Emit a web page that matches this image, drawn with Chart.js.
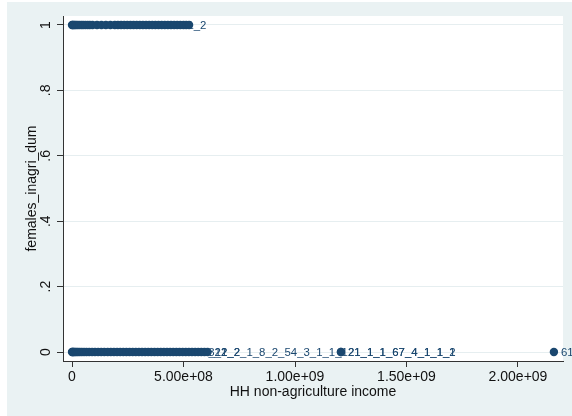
<!DOCTYPE html>
<html>
<head>
<meta charset="utf-8">
<script src="https://cdn.jsdelivr.net/npm/chart.js@4/dist/chart.umd.min.js"></script>
<style>
  html, body { margin: 0; padding: 0; background: #ffffff; }
  canvas { display: block; }
</style>
</head>
<body>
<canvas id="chart" width="572" height="416"></canvas>
<script>
// Households with females working in agriculture (females_inagri_dum = 1)
const incomeInAgri = [
  0, 3e6, 7e6, 1.2e7, 1.8e7, 2.5e7, 3.3e7, 4.2e7, 5.0e7, 6.0e7,
  7.0e7, 8.0e7, 9.2e7, 1.12e8, 1.32e8, 1.52e8, 1.72e8, 1.92e8, 2.06e8, 2.2e8,
  2.34e8, 2.48e8, 2.62e8, 2.76e8, 2.9e8, 3.04e8, 3.18e8, 3.32e8, 3.46e8, 3.6e8,
  3.74e8, 3.88e8, 4.02e8, 4.16e8, 4.3e8, 4.44e8, 4.58e8, 4.72e8, 4.86e8, 5.0e8,
  5.12e8, 5.25e8
];
// Household id marker labels ("" = no id recorded)
const idsInAgri = [
  "", "", "", "", "", "", "", "", "", "",
  "", "", "", "", "", "", "", "", "", "",
  "", "", "", "", "", "", "", "", "", "",
  "", "", "", "", "", "", "", "", "1_2", "",
  "", ""
];

// Households without females in agriculture (females_inagri_dum = 0)
const incomeNotAgri = [
  0, 2e6, 5e6, 9e6, 1.4e7, 2.0e7, 2.7e7, 3.5e7, 4.4e7, 5.4e7,
  6.5e7, 7.7e7, 9.0e7, 1.03e8, 1.17e8, 1.31e8, 1.45e8, 1.6e8, 1.74e8, 1.88e8,
  2.02e8, 2.16e8, 2.3e8, 2.44e8, 2.58e8, 2.72e8, 2.86e8, 3.0e8, 3.14e8, 3.28e8,
  3.42e8, 3.56e8, 3.7e8, 3.84e8, 3.98e8, 4.12e8, 4.26e8, 4.4e8, 4.54e8, 4.68e8,
  4.82e8, 4.96e8, 5.1e8, 5.24e8, 5.38e8, 5.52e8, 5.66e8, 5.8e8, 5.94e8, 6.08e8,
  1.206e9, 1.206e9, 2.161e9
];
const idsNotAgri = [
  "", "", "", "", "", "", "", "", "", "",
  "", "", "", "", "", "", "", "", "", "",
  "", "", "", "", "", "", "", "", "", "",
  "", "", "", "", "", "", "", "", "", "",
  "", "", "", "", "", "2_12_2_1_8_2_54_3_1_1_1", "", "3_1_2", "", "22",
  "21_1_1_67_4_1_1_2", "21_1_1_67_4_1_1_1", "61_1_2_3_1_1_1_1"
];

const xTickValues = [0, 5e8, 1e9, 1.5e9, 2e9];
const xTickLabels = ["0", "5.00e+08", "1.00e+09", "1.50e+09", "2.00e+09"];
const yTickValues = [0, 0.2, 0.4, 0.6, 0.8, 1];
const yTickLabels = ["0", ".2", ".4", ".6", ".8", "1"];
const xTitle = "HH non-agriculture income";
const yTitle = "females_inagri_dum";

const NAVY = "#1a476f";
const FRAME = "#eaf2f3";
const FONT = "'Liberation Sans', Arial, Helvetica, sans-serif";

const toPoints = (xs, ys, ids) => xs.map((x, i) => ({ x: x, y: ys, id: ids[i] }));

// Page frame, plot region and axis texts
const framePlugin = {
  id: "frame",
  beforeDraw(chart) {
    const { ctx, chartArea: a } = chart;
    ctx.save();
    ctx.fillStyle = "#ffffff";
    ctx.fillRect(0, 0, chart.width, chart.height);
    ctx.fillStyle = FRAME;
    ctx.fillRect(7, 2, chart.width - 7, chart.height - 2);
    ctx.fillStyle = "#ffffff";
    ctx.fillRect(a.left, a.top, a.right - a.left, a.bottom - a.top);
    ctx.restore();
  },
  afterDraw(chart) {
    const { ctx, chartArea: a } = chart;
    const xs = chart.scales.x, ys = chart.scales.y;
    ctx.save();
    ctx.fillStyle = "#111111";
    ctx.font = "14px " + FONT;
    ctx.textBaseline = "alphabetic";
    ctx.textAlign = "center";
    xTickValues.forEach((v, i) => {
      ctx.fillText(xTickLabels[i], xs.getPixelForValue(v), 381);
    });
    ctx.fillText(xTitle, (a.left + a.right) / 2, 396);
    yTickValues.forEach((v, i) => {
      ctx.save();
      ctx.translate(50, ys.getPixelForValue(v));
      ctx.rotate(-Math.PI / 2);
      ctx.fillText(yTickLabels[i], 0, 0);
      ctx.restore();
    });
    ctx.save();
    ctx.translate(35.5, (a.top + a.bottom) / 2);
    ctx.rotate(-Math.PI / 2);
    ctx.fillText(yTitle, 0, 0);
    ctx.restore();
    ctx.restore();
  }
};

// Household id marker labels, drawn beneath the markers
const markerLabelPlugin = {
  id: "markerLabels",
  beforeDatasetsDraw(chart) {
    const { ctx } = chart;
    ctx.save();
    ctx.fillStyle = NAVY;
    ctx.font = "11.4px " + FONT;
    ctx.textAlign = "left";
    ctx.textBaseline = "alphabetic";
    chart.data.datasets.forEach((ds, di) => {
      const meta = chart.getDatasetMeta(di);
      meta.data.forEach((pt, i) => {
        const id = ds.data[i].id;
        if (id) ctx.fillText(id, pt.x + 7, pt.y + 4.1);
      });
    });
    ctx.restore();
  }
};

new Chart(document.getElementById("chart"), {
  type: "scatter",
  data: {
    datasets: [
      { data: toPoints(incomeInAgri, 1, idsInAgri) },
      { data: toPoints(incomeNotAgri, 0, idsNotAgri) }
    ]
  },
  options: {
    responsive: false,
    animation: false,
    devicePixelRatio: 1,
    layout: { padding: { left: 0, top: 16, right: 9, bottom: 0 } },
    elements: {
      point: { radius: 4.2, hoverRadius: 4.2, backgroundColor: NAVY, borderColor: NAVY, borderWidth: 0 }
    },
    plugins: { legend: { display: false }, tooltip: { enabled: false } },
    scales: {
      x: {
        type: "linear",
        min: -4.04e7,
        max: 2.2018e9,
        afterBuildTicks: (s) => { s.ticks = xTickValues.map(v => ({ value: v })); },
        afterFit: (s) => { s.height = 55; },
        ticks: { display: false },
        grid: { drawOnChartArea: false, drawTicks: true, tickLength: 6, tickColor: "#333333" },
        border: { display: true, color: "#333333", width: 1 }
      },
      y: {
        type: "linear",
        min: -0.0275,
        max: 1.0275,
        afterBuildTicks: (s) => { s.ticks = yTickValues.map(v => ({ value: v })); },
        afterFit: (s) => { s.width = 63; },
        ticks: { display: false },
        grid: { drawOnChartArea: true, color: "#e6eef0", drawTicks: true, tickLength: 6, tickColor: "#333333" },
        border: { display: true, color: "#333333", width: 1 }
      }
    }
  },
  plugins: [framePlugin, markerLabelPlugin]
});
</script>
</body>
</html>
